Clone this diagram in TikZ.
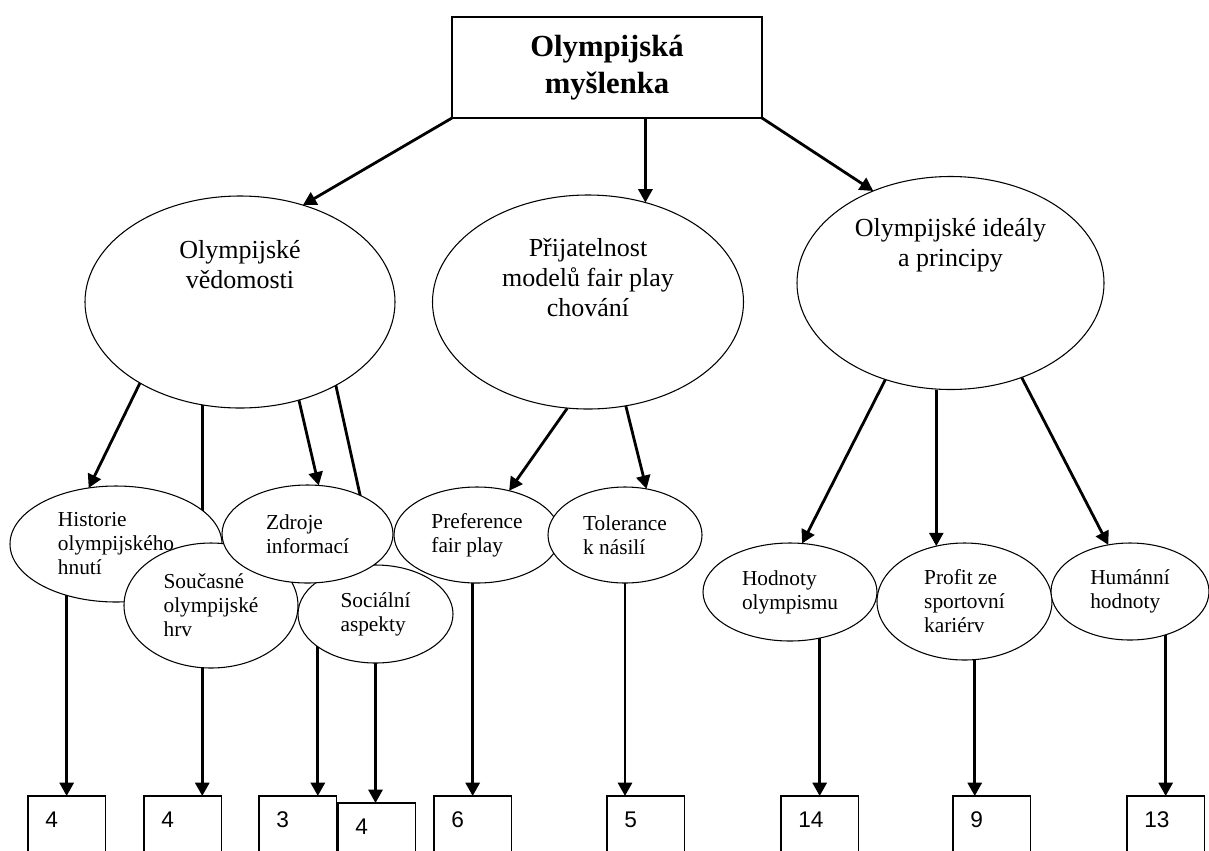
\documentclass[tikz,border=0pt]{standalone}
\usepackage{fontspec}
\setmainfont{Liberation Serif}
\setsansfont{Liberation Sans}
\usetikzlibrary{arrows.meta, shapes.geometric, backgrounds}

\begin{document}
\begin{tikzpicture}[x=0.75pt, y=-0.75pt,
        conn/.style={line width=2.1pt, -{Triangle[length=10pt, width=10.5pt]}},
        titlebox/.style={draw, line width=1pt, fill=white, inner sep=0pt, outer sep=0pt, align=center, font=\fontsize{23}{28}\selectfont\bfseries},
        bigoval/.style={draw, ellipse, fill=white, line width=0.8pt, inner sep=0pt, outer sep=0pt},
        bigtext/.style={align=center, font=\fontsize{19.5}{22.5}\selectfont},
        oval/.style={draw, ellipse, fill=white, line width=0.8pt, inner sep=0pt, outer sep=0pt, align=left, font=\fontsize{16}{18}\selectfont},
        numbox/.style={draw, fill=white, line width=0.8pt, anchor=north west, inner xsep=13pt, inner ysep=0pt, outer sep=0pt, text width=32pt, text height=23.5pt, text depth=36.5pt, align=left, font=\sffamily\fontsize{17}{18}\selectfont}]
            \useasboundingbox (0,0) rectangle (1209,850);
            \clip (0,0) rectangle (1209,850);

            \node[titlebox, minimum width=232.5pt, minimum height=75.75pt] (top) at (607,67.5) {Olympijská\\myšlenka};

            \node[bigoval, minimum width=232.5pt, minimum height=159pt] (vedom) at (240,302) {};
            \node[bigoval, minimum width=233.25pt, minimum height=160.5pt] (prijat) at (588,302) {};
            \node[bigoval, minimum width=230.25pt, minimum height=159.75pt] (idealy) at (950.5,283) {};
            \node[bigtext] (vedomtxt) at ([yshift=27.75pt]vedom.center) {Olympijské\\vědomosti};
            \node[bigtext] (prijattxt) at ([yshift=18pt]prijat.center) {Přijatelnost\\modelů fair play\\chování};
            \node[bigtext] (idealytxt) at ([yshift=28.5pt]idealy.center) {Olympijské ideály\\a principy};

            \node[oval, minimum width=159pt, minimum height=87pt] (hist) at (116,544) {Historie\\olympijského\\hnutí};
            \node[oval, minimum width=130.5pt, minimum height=93.75pt] (soucas) at (211,605.5) {Současné\\olympijské\\hrv};
            \node[oval, minimum width=116.25pt, minimum height=73.5pt] (social) at (375.5,614) {Sociální\\aspekty};
            \node[oval, minimum width=128.25pt, minimum height=73.5pt] (zdroje) at (307.5,534) {Zdroje\\informací};
            \node[oval, minimum width=124.5pt, minimum height=72pt] (pref) at (477,535) {Preference\\fair play};
            \node[oval, minimum width=115.5pt, minimum height=72pt] (toler) at (625,535) {Tolerance\\k násilí};
            \node[oval, minimum width=130.5pt, minimum height=73.5pt] (hodn) at (790,592) {Hodnoty\\olympismu};
            \node[oval, minimum width=131.25pt, minimum height=87.75pt] (profit) at (964.5,601.5) {Profit ze\\sportovní\\kariérv};
            \node[oval, minimum width=118.5pt, minimum height=72.75pt] (human) at (1130,591.5) {Humánní\\hodnoty};

            \node[numbox] (histn) at (28,796) {4};
            \node[numbox] (soucasn) at (144,796) {4};
            \node[numbox] (zdrojen) at (259,796) {3};
            \node[numbox] (socialn) at (338,803) {4};
            \node[numbox] (prefn) at (434,796) {6};
            \node[numbox] (tolern) at (607,796) {5};
            \node[numbox] (hodnn) at (781,796) {14};
            \node[numbox] (profitn) at (953,796) {9};
            \node[numbox] (humann) at (1127,796) {13};

            \begin{scope}[on background layer]
                \draw[conn] (top.south west) -- (vedom.57);
                \draw[conn] (top.south -| prijat.60) -- (prijat.60);
                \draw[conn] (top.south east) -- (idealy.130);
                \draw[conn] (vedom.219) -- (hist.116);
                \draw[conn] (vedom.250) -- (vedom.250 |- soucas.north);
                \draw[conn] (vedom.301) -- (zdroje.77);
                \draw[conn] (vedom.319) -- (social.north);
                \draw[conn] (prijat.259) -- (pref.54);
                \draw[conn] (prijat.290) -- (toler.65);
                \draw[conn] (idealy.236) -- (hodn.76);
                \draw[conn] (profit.117 |- idealy.south) -- (profit.117);
                \draw[conn] (idealy.307) -- (human.115);
                \draw[conn] (hist.center -| histn.north) -- (histn.north);
                \draw[conn] (soucas.262) -- (soucas.262 |- soucasn.north);
                \draw[conn] (zdroje.282) -- (zdroje.282 |- zdrojen.north);
                \draw[conn] (social.south) -- (social.south |- socialn.north);
                \draw[conn] (pref.south -| prefn.north) -- (prefn.north);
                \draw[conn] (toler.south) -- (toler.south |- tolern.north);
                \draw[conn] (hodn.center -| hodnn.north) -- (hodnn.north);
                \draw[conn] (profit.280) -- (profit.280 |- profitn.north);
                \draw[conn] (human.center -| humann.north) -- (humann.north);
            \end{scope}
        \end{tikzpicture}
\end{document}
